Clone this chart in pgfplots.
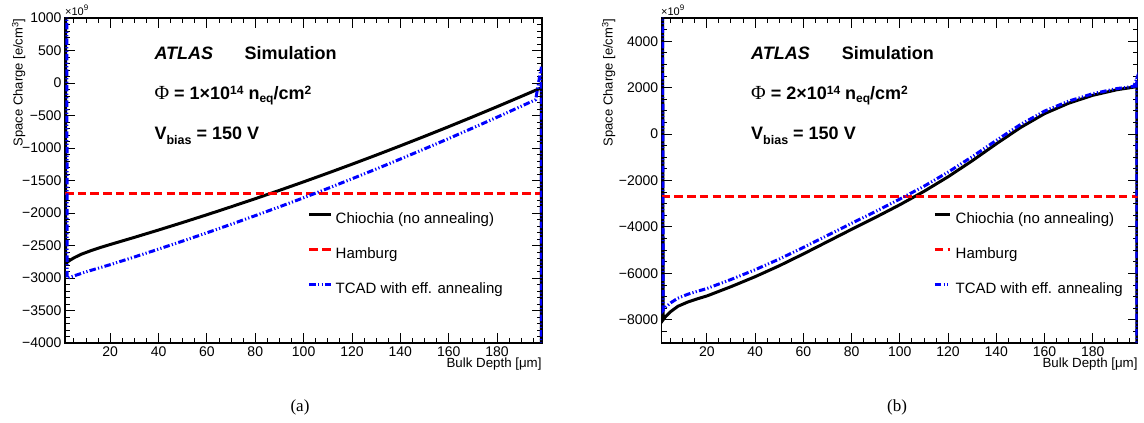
\documentclass[border=0pt]{standalone}
\usepackage{fontspec}
\setmainfont{Liberation Sans}
\newfontfamily\seriffont{Liberation Serif}
\usepackage{pgfplots}
\pgfplotsset{compat=1.18}
\newcommand\fs[1]{\fontsize{#1pt}{#1pt}\selectfont}
\newcommand\supx[1]{\raisebox{5.5pt}{\fs{12}#1}}
\newcommand\subx[1]{\raisebox{-3pt}{\fs{12}#1}}
\pgfplotsset{
  common/.style={
    scale only axis, height=325pt, anchor=south west,
    xmin=1.3, xmax=198.6,
    xtick={20,40,...,180}, minor xtick={5,10,...,195},
    tick align=inside,
    major tick length=10pt, minor tick length=5pt,
    tick style={black, line width=0.9pt},
    axis line style={line width=1.5pt},
    ticklabel style={font=\fs{14}},
    /pgf/number format/assume math mode=true,
    legend style={draw=none, fill=none, anchor=north west, inner sep=0pt, outer sep=0pt,
      font=\fs{15}, row sep=20.5pt,
      nodes={inner sep=0pt, text height=11pt, text depth=3.5pt}},
    legend cell align=left,
  },
  chio/.style={black, line width=3pt},
  hamb/.style={red, line width=3pt, dash pattern=on 8.5pt off 4.2pt},
  tcad/.style={blue, line width=3pt, dash pattern=on 6.5pt off 2.2pt on 1.2pt off 2.2pt on 1.2pt off 2.2pt},
}
\begin{document}
\begin{tikzpicture}
\path[use as bounding box] (0,0) rectangle (1144pt,423pt);
% ---------------- (a)
\begin{axis}[common, at={(65pt,80pt)}, width=477pt,
  ymin=-4000, ymax=1000, ytick={-4000,-3500,...,1000},
  yticklabels={−4000,−3500,−3000,−2500,−2000,−1500,−1000,−500,0,500,1000},
  minor ytick={-4000,-3900,...,1000},
  legend style={at={(0.5094,0.4)}, column sep=2.7pt},
  legend image code/.code={\draw[#1] (0pt,5.7pt) -- (22pt,5.7pt);},
]
\addplot[chio] coordinates {(1.4,20000) (1.6,-2770) (2,-2765) (3,-2735) (5,-2690) (8,-2635) (12,-2580) (16,-2530) (20,-2485) (30,-2375) (40,-2262) (50,-2146) (60,-2027) (70,-1905) (80,-1780) (90,-1652) (100,-1521) (110,-1387) (120,-1250) (130,-1110) (140,-967) (150,-821) (160,-672) (170,-520) (180,-365) (190,-207) (196,-111) (198.3,-75) (198.3,-20000)};
\addlegendentry{Chiochia (no annealing)}
\addplot[hamb] coordinates {(1.3,-1700) (198.6,-1700)};
\addlegendentry{Hamburg}
\addplot[tcad] coordinates {(1.4,20000) (2.2,-3005) (5,-2968) (10,-2905) (15,-2850) (20,-2795) (30,-2677) (40,-2556) (50,-2432) (60,-2305) (70,-2174) (80,-2041) (90,-1905) (100,-1766) (110,-1622) (120,-1474) (130,-1324) (140,-1170) (150,-1014) (160,-855) (170,-692) (180,-527) (190,-358) (196,-256) (198.3,250) (198.3,-20000)};
\addlegendentry{TCAD with eff. annealing}
\end{axis}
% ---------------- (b)
\begin{axis}[common, at={(661.7pt,80pt)}, width=476pt,
  ymin=-9000, ymax=5000, ytick={-8000,-6000,...,4000},
  yticklabels={−8000,−6000,−4000,−2000,0,2000,4000},
  minor ytick={-9000,-8500,...,5000},
  legend style={at={(0.5706,0.4)}, column sep=4.4pt},
  legend image code/.code={\draw[#1] (0pt,5.7pt) -- (15pt,5.7pt);},
]
\addplot[chio] coordinates {(1.4,20000) (1.9,-8000) (3,-7850) (5,-7650) (8,-7420) (12,-7240) (16,-7100) (20,-6975) (30,-6575) (40,-6145) (50,-5675) (60,-5165) (70,-4635) (80,-4105) (90,-3585) (100,-3045) (110,-2470) (120,-1840) (130,-1150) (140,-420) (150,280) (160,880) (170,1330) (180,1670) (190,1910) (197,2022) (198.3,2200) (198.3,-20000)};
\addlegendentry{Chiochia (no annealing)}
\addplot[hamb] coordinates {(1.3,-2710) (198.6,-2710)};
\addlegendentry{Hamburg}
\addplot[tcad] coordinates {(1.4,20000) (1.9,-7590) (3,-7450) (5,-7270) (8,-7070) (12,-6905) (16,-6775) (20,-6655) (30,-6265) (40,-5845) (50,-5385) (60,-4885) (70,-4365) (80,-3845) (90,-3333) (100,-2800) (110,-2248) (120,-1640) (130,-975) (140,-270) (150,410) (160,990) (170,1420) (180,1740) (190,1960) (197,2057) (198.3,2420) (198.3,-20000)};
\addlegendentry{TCAD with eff. annealing}
\end{axis}
% ---------------- texts (a)
\node[anchor=base west, inner sep=0pt] at (154.3pt,363.7pt) {\fs{18}\bfseries\itshape ATLAS};
\node[anchor=base west, inner sep=0pt] at (244.3pt,363.7pt) {\fs{18}\bfseries Simulation};
\node[anchor=base west, inner sep=0pt] at (154.3pt,323pt) {\fs{18}{\seriffont\fs{20}Φ}\bfseries\ = 1×10\supx{14} n\subx{eq}/cm\supx{2}};
\node[anchor=base west, inner sep=0pt] at (154.3pt,283pt) {\fs{18}\bfseries V\raisebox{-4.5pt}{\fs{12.5}bias} = 150 V};
\node[rotate=90, anchor=base east, inner sep=0pt] at (22.7pt,404.7pt) {\fs{13}Space Charge [e/cm\textsuperscript{3}]};
\node[anchor=base west, inner sep=0pt] at (65pt,407.3pt) {\fs{11}×10\raisebox{5pt}{\fs{8}9}};
\node[anchor=base east, inner sep=0pt] at (541.7pt,55pt) {\fs{13.3}Bulk Depth [μm]};
\node[inner sep=0pt] at (300pt,16pt) {\seriffont\fs{17}(a)};
% ---------------- texts (b)
\node[anchor=base west, inner sep=0pt] at (751pt,363.7pt) {\fs{18}\bfseries\itshape ATLAS};
\node[anchor=base west, inner sep=0pt] at (841.7pt,363.7pt) {\fs{18}\bfseries Simulation};
\node[anchor=base west, inner sep=0pt] at (751pt,323pt) {\fs{18}{\seriffont\fs{20}Φ}\bfseries\ = 2×10\supx{14} n\subx{eq}/cm\supx{2}};
\node[anchor=base west, inner sep=0pt] at (751pt,283pt) {\fs{18}\bfseries V\raisebox{-4.5pt}{\fs{12.5}bias} = 150 V};
\node[rotate=90, anchor=base east, inner sep=0pt] at (612.7pt,404.7pt) {\fs{13}Space Charge [e/cm\textsuperscript{3}]};
\node[anchor=base west, inner sep=0pt] at (661pt,407.3pt) {\fs{11}×10\raisebox{5pt}{\fs{8}9}};
\node[anchor=base east, inner sep=0pt] at (1137.7pt,55pt) {\fs{13.3}Bulk Depth [μm]};
\node[inner sep=0pt] at (897pt,16pt) {\seriffont\fs{17}(b)};
\end{tikzpicture}
\end{document}
